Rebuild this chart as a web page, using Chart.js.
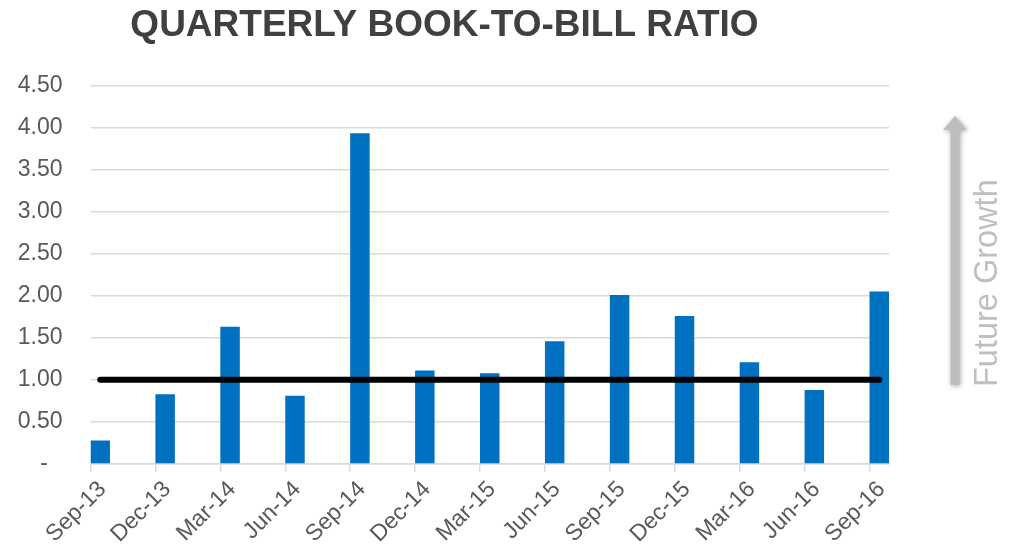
<!DOCTYPE html>
<html><head><meta charset="utf-8">
<script src="https://cdn.jsdelivr.net/npm/chart.js@4.4.0/dist/chart.umd.min.js"></script>
<style>html,body{margin:0;padding:0;background:#fff;} #wrap{width:1009px;height:549px;position:relative;}</style>
</head><body><div id="wrap"><canvas id="c" width="1009" height="549"></canvas></div>
<script>
const quarters = ['Sep-13','Dec-13','Mar-14','Jun-14','Sep-14','Dec-14','Mar-15','Jun-15','Sep-15','Dec-15','Mar-16','Jun-16','Sep-16'];
const bookToBill = [0.28,0.83,1.63,0.81,3.93,1.11,1.08,1.46,2.01,1.76,1.21,0.88,2.05];
const parity = [1,1,1,1,1,1,1,1,1,1,1,1,1];
const yTickValues = [0,0.5,1,1.5,2,2.5,3,3.5,4,4.5];
const titleText = 'QUARTERLY BOOK-TO-BILL RATIO';
const sideLabel = 'Future Growth';

const FONT = '"Liberation Sans", Arial, sans-serif';
const BAR_FRACTION = 0.3;            // bar width as share of one quarter step
const HALF = BAR_FRACTION / 2;

const sidePlugin = {
  id: 'sideArrow',
  afterDraw(chart) {
    const ctx = chart.ctx;
    const ca = chart.chartArea;
    const x = ca.right + 66;
    const top = 116, bottom = 385;
    ctx.save();
    ctx.shadowColor = 'rgba(0,0,0,0.35)';
    ctx.shadowBlur = 5;
    ctx.shadowOffsetX = 1;
    ctx.shadowOffsetY = 1;
    ctx.fillStyle = '#bdbdbd';
    ctx.beginPath();
    ctx.moveTo(x - 4.5, bottom);
    ctx.lineTo(x - 4.5, top + 14);
    ctx.lineTo(x - 12, top + 14);
    ctx.lineTo(x, top);
    ctx.lineTo(x + 12, top + 14);
    ctx.lineTo(x + 4.5, top + 14);
    ctx.lineTo(x + 4.5, bottom);
    ctx.closePath();
    ctx.fill();
    ctx.restore();

    ctx.save();
    ctx.translate(x + 33, 387);
    ctx.rotate(-Math.PI / 2);
    ctx.font = '32.5px ' + FONT;
    ctx.fillStyle = '#bfbfbf';
    ctx.textAlign = 'left';
    ctx.textBaseline = 'middle';
    ctx.fillText(sideLabel, 0, 0);
    ctx.restore();
  }
};

new Chart(document.getElementById('c'), {
  data: {
    datasets: [
      {
        type: 'line',
        data: parity.map((v, i) => ({x: i, y: v})),
        borderColor: '#000000',
        borderWidth: 6,
        borderCapStyle: 'round',
        pointRadius: 0,
        order: 0
      },
      {
        type: 'bar',
        data: bookToBill.map((v, i) => ({x: i, y: v})),
        backgroundColor: '#0070c0',
        barPercentage: BAR_FRACTION,
        categoryPercentage: 1,
        order: 1
      }
    ]
  },
  options: {
    responsive: false,
    devicePixelRatio: 1,
    animation: false,
    layout: { padding: { left: 0, right: 120, top: 0, bottom: 0 } },
    plugins: {
      legend: { display: false },
      tooltip: { enabled: false },
      title: {
        display: true,
        text: titleText,
        color: '#404040',
        font: { family: FONT, size: 37, weight: 'bold' },
        padding: { top: 4, bottom: 37 }
      }
    },
    scales: {
      x: {
        type: 'linear',
        offset: false,
        min: -HALF,
        max: quarters.length - 1 + HALF,
        afterBuildTicks: (s) => { s.ticks = quarters.map((q, i) => ({ value: i - HALF })); },
        afterFit: (s) => { s.height = 85; },
        grid: { display: true, drawOnChartArea: false, drawTicks: true, tickLength: 8, color: '#d9d9d9', lineWidth: 1.5, offset: false },
        border: { display: true, color: '#d9d9d9', width: 1.5 },
        ticks: {
          autoSkip: false,
          maxRotation: 45,
          minRotation: 45,
          labelOffset: 12,
          padding: 4,
          color: '#595959',
          font: { family: FONT, size: 23 },
          callback: (v, i) => quarters[i]
        }
      },
      y: {
        type: 'linear',
        min: yTickValues[0],
        max: yTickValues[yTickValues.length - 1],
        afterBuildTicks: (s) => { s.ticks = yTickValues.map(v => ({ value: v })); },
        afterFit: (s) => { s.width = 90.5; },
        grid: { color: '#d9d9d9', lineWidth: 1.5, drawTicks: false },
        border: { display: false },
        ticks: {
          padding: 28,
          color: '#595959',
          font: { family: FONT, size: 23 },
          callback: (v) => v === 0 ? '-\u2007\u200a' : v.toFixed(2)
        }
      }
    }
  },
  plugins: [sidePlugin]
});
</script>
</body></html>
